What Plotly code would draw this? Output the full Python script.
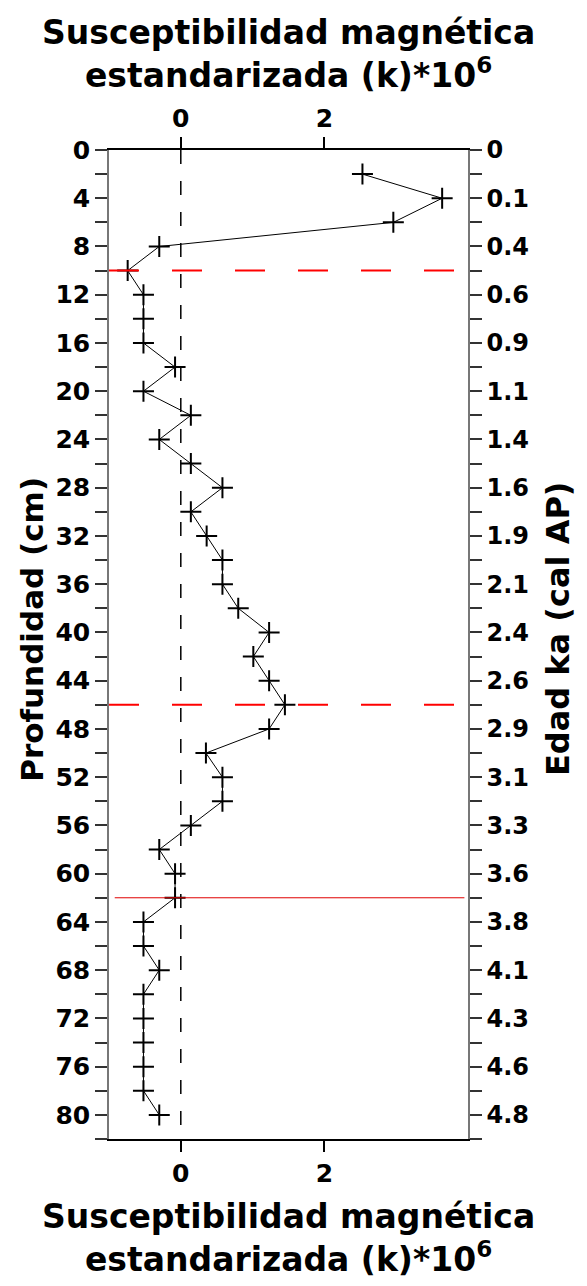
import plotly.graph_objects as go

# ---------------- data ----------------
depth_cm = [2, 4, 6, 8, 10, 12, 14, 16, 18, 20, 22, 24, 26, 28, 30, 32, 34, 36, 38, 40,
            42, 44, 46, 48, 50, 52, 54, 56, 58, 60, 62, 64, 66, 68, 70, 72, 74, 76, 78, 80]
susceptibility = [2.53, 3.64, 2.96, -0.30, -0.74, -0.52, -0.52, -0.52, -0.08, -0.52,
                  0.14, -0.30, 0.14, 0.58, 0.14, 0.36, 0.58, 0.58, 0.80, 1.23,
                  1.01, 1.23, 1.45, 1.23, 0.35, 0.58, 0.58, 0.14, -0.30, -0.08,
                  -0.08, -0.52, -0.52, -0.30, -0.52, -0.52, -0.52, -0.52, -0.52, -0.30]

depth_label_ticks = [0, 4, 8, 12, 16, 20, 24, 28, 32, 36, 40, 44, 48, 52, 56, 60, 64, 68, 72, 76, 80]
depth_labels = [str(d) for d in depth_label_ticks]
depth_minor_ticks = [2, 6, 10, 14, 18, 22, 26, 30, 34, 38, 42, 46, 50, 54, 58, 62, 66, 70, 74, 78, 82]
age_labels = ["0", "0.1", "0.4", "0.6", "0.9", "1.1", "1.4", "1.6", "1.9", "2.1", "2.4",
              "2.6", "2.9", "3.1", "3.3", "3.6", "3.8", "4.1", "4.3", "4.6", "4.8"]

x_ticks = [0, 2]
x_range = [-1, 4]
depth_range = [82, 0]
zero_line_x = 0
boundary_depths = [10, 46]
thin_line_depth = 62
thin_line_x = [-0.92, 3.95]

title_x = "Susceptibilidad magnética<br>estandarizada (k)*10<sup>6</sup>"
title_left = "Profundidad (cm)"
title_right = "Edad ka (cal AP)"

FONT = "DejaVu Sans, Liberation Sans, Arial, sans-serif"
TICKFONT = dict(family=FONT, size=25, color="black", weight="bold")
TICKFONT_R = dict(family=FONT, size=24, color="black", weight="bold")

fig = go.Figure()

fig.add_trace(go.Scatter(
    x=susceptibility, y=depth_cm, mode="lines+markers",
    line=dict(color="black", width=1),
    marker=dict(symbol="cross-thin-open", size=15, line=dict(color="black", width=2)),
    xaxis="x", yaxis="y", showlegend=False, hoverinfo="x+y",
))
# invisible trace to activate secondary axes
fig.add_trace(go.Scatter(
    x=susceptibility, y=depth_cm, mode="markers", marker=dict(opacity=0),
    xaxis="x2", yaxis="y2", showlegend=False, hoverinfo="skip",
))

# reference lines
fig.add_shape(type="line", xref="x", yref="y", x0=zero_line_x, x1=zero_line_x,
              y0=depth_range[1], y1=depth_range[0],
              line=dict(color="black", width=1.5, dash="14px,17px"))
for d in boundary_depths:
    fig.add_shape(type="line", xref="x", yref="y", x0=x_range[0], x1=x_range[1], y0=d, y1=d,
                  line=dict(color="#ff0000", width=2, dash="30px,33px"))
fig.add_shape(type="line", xref="x", yref="y", x0=thin_line_x[0], x1=thin_line_x[1],
              y0=thin_line_depth, y1=thin_line_depth,
              line=dict(color="#e00000", width=1))

xcommon = dict(range=x_range, tickvals=x_ticks, ticktext=[str(t) for t in x_ticks],
               ticks="outside", ticklen=11, tickwidth=1.5, tickcolor="black",
               showline=True, linecolor="black", linewidth=1.5, showgrid=False,
               zeroline=False, tickfont=TICKFONT)
ycommon = dict(range=depth_range, tickvals=depth_label_ticks,
               ticks="outside", ticklen=12, tickwidth=1.5, tickcolor="#333333",
               minor=dict(tickvals=depth_minor_ticks, ticks="outside", ticklen=12,
                          tickwidth=1.5, tickcolor="#333333", showgrid=False),
               showline=True, linecolor="#777777", linewidth=1.5, showgrid=False,
               zeroline=False)

fig.update_layout(
    width=587, height=1286,
    margin=dict(l=109, r=119, t=150, b=147),
    paper_bgcolor="white", plot_bgcolor="white",
    xaxis=dict(**xcommon, side="bottom", anchor="y"),
    xaxis2=dict(**xcommon, side="top", overlaying="x", anchor="y"),
    yaxis=dict(**ycommon, ticktext=depth_labels, side="left", anchor="x", tickfont=TICKFONT),
    yaxis2=dict(**ycommon, ticktext=age_labels, side="right", overlaying="y", anchor="x",
                tickfont=TICKFONT_R),
    annotations=[
        dict(text=title_x, xref="paper", yref="paper", x=0.5, y=1.097, xanchor="center",
             yanchor="middle", showarrow=False,
             font=dict(family=FONT, size=33, color="black", weight="bold")),
        dict(text=title_x, xref="paper", yref="paper", x=0.5, y=-0.100, xanchor="center",
             yanchor="middle", showarrow=False,
             font=dict(family=FONT, size=33, color="black", weight="bold")),
        dict(text=title_left, xref="paper", yref="paper", x=-0.215, y=0.5157, xanchor="center",
             yanchor="middle", showarrow=False, textangle=-90,
             font=dict(family=FONT, size=31, color="black", weight="bold")),
        dict(text=title_right, xref="paper", yref="paper", x=1.251, y=0.5157, xanchor="center",
             yanchor="middle", showarrow=False, textangle=-90,
             font=dict(family=FONT, size=32, color="black", weight="bold")),
    ],
)

fig.write_html("out.html")
